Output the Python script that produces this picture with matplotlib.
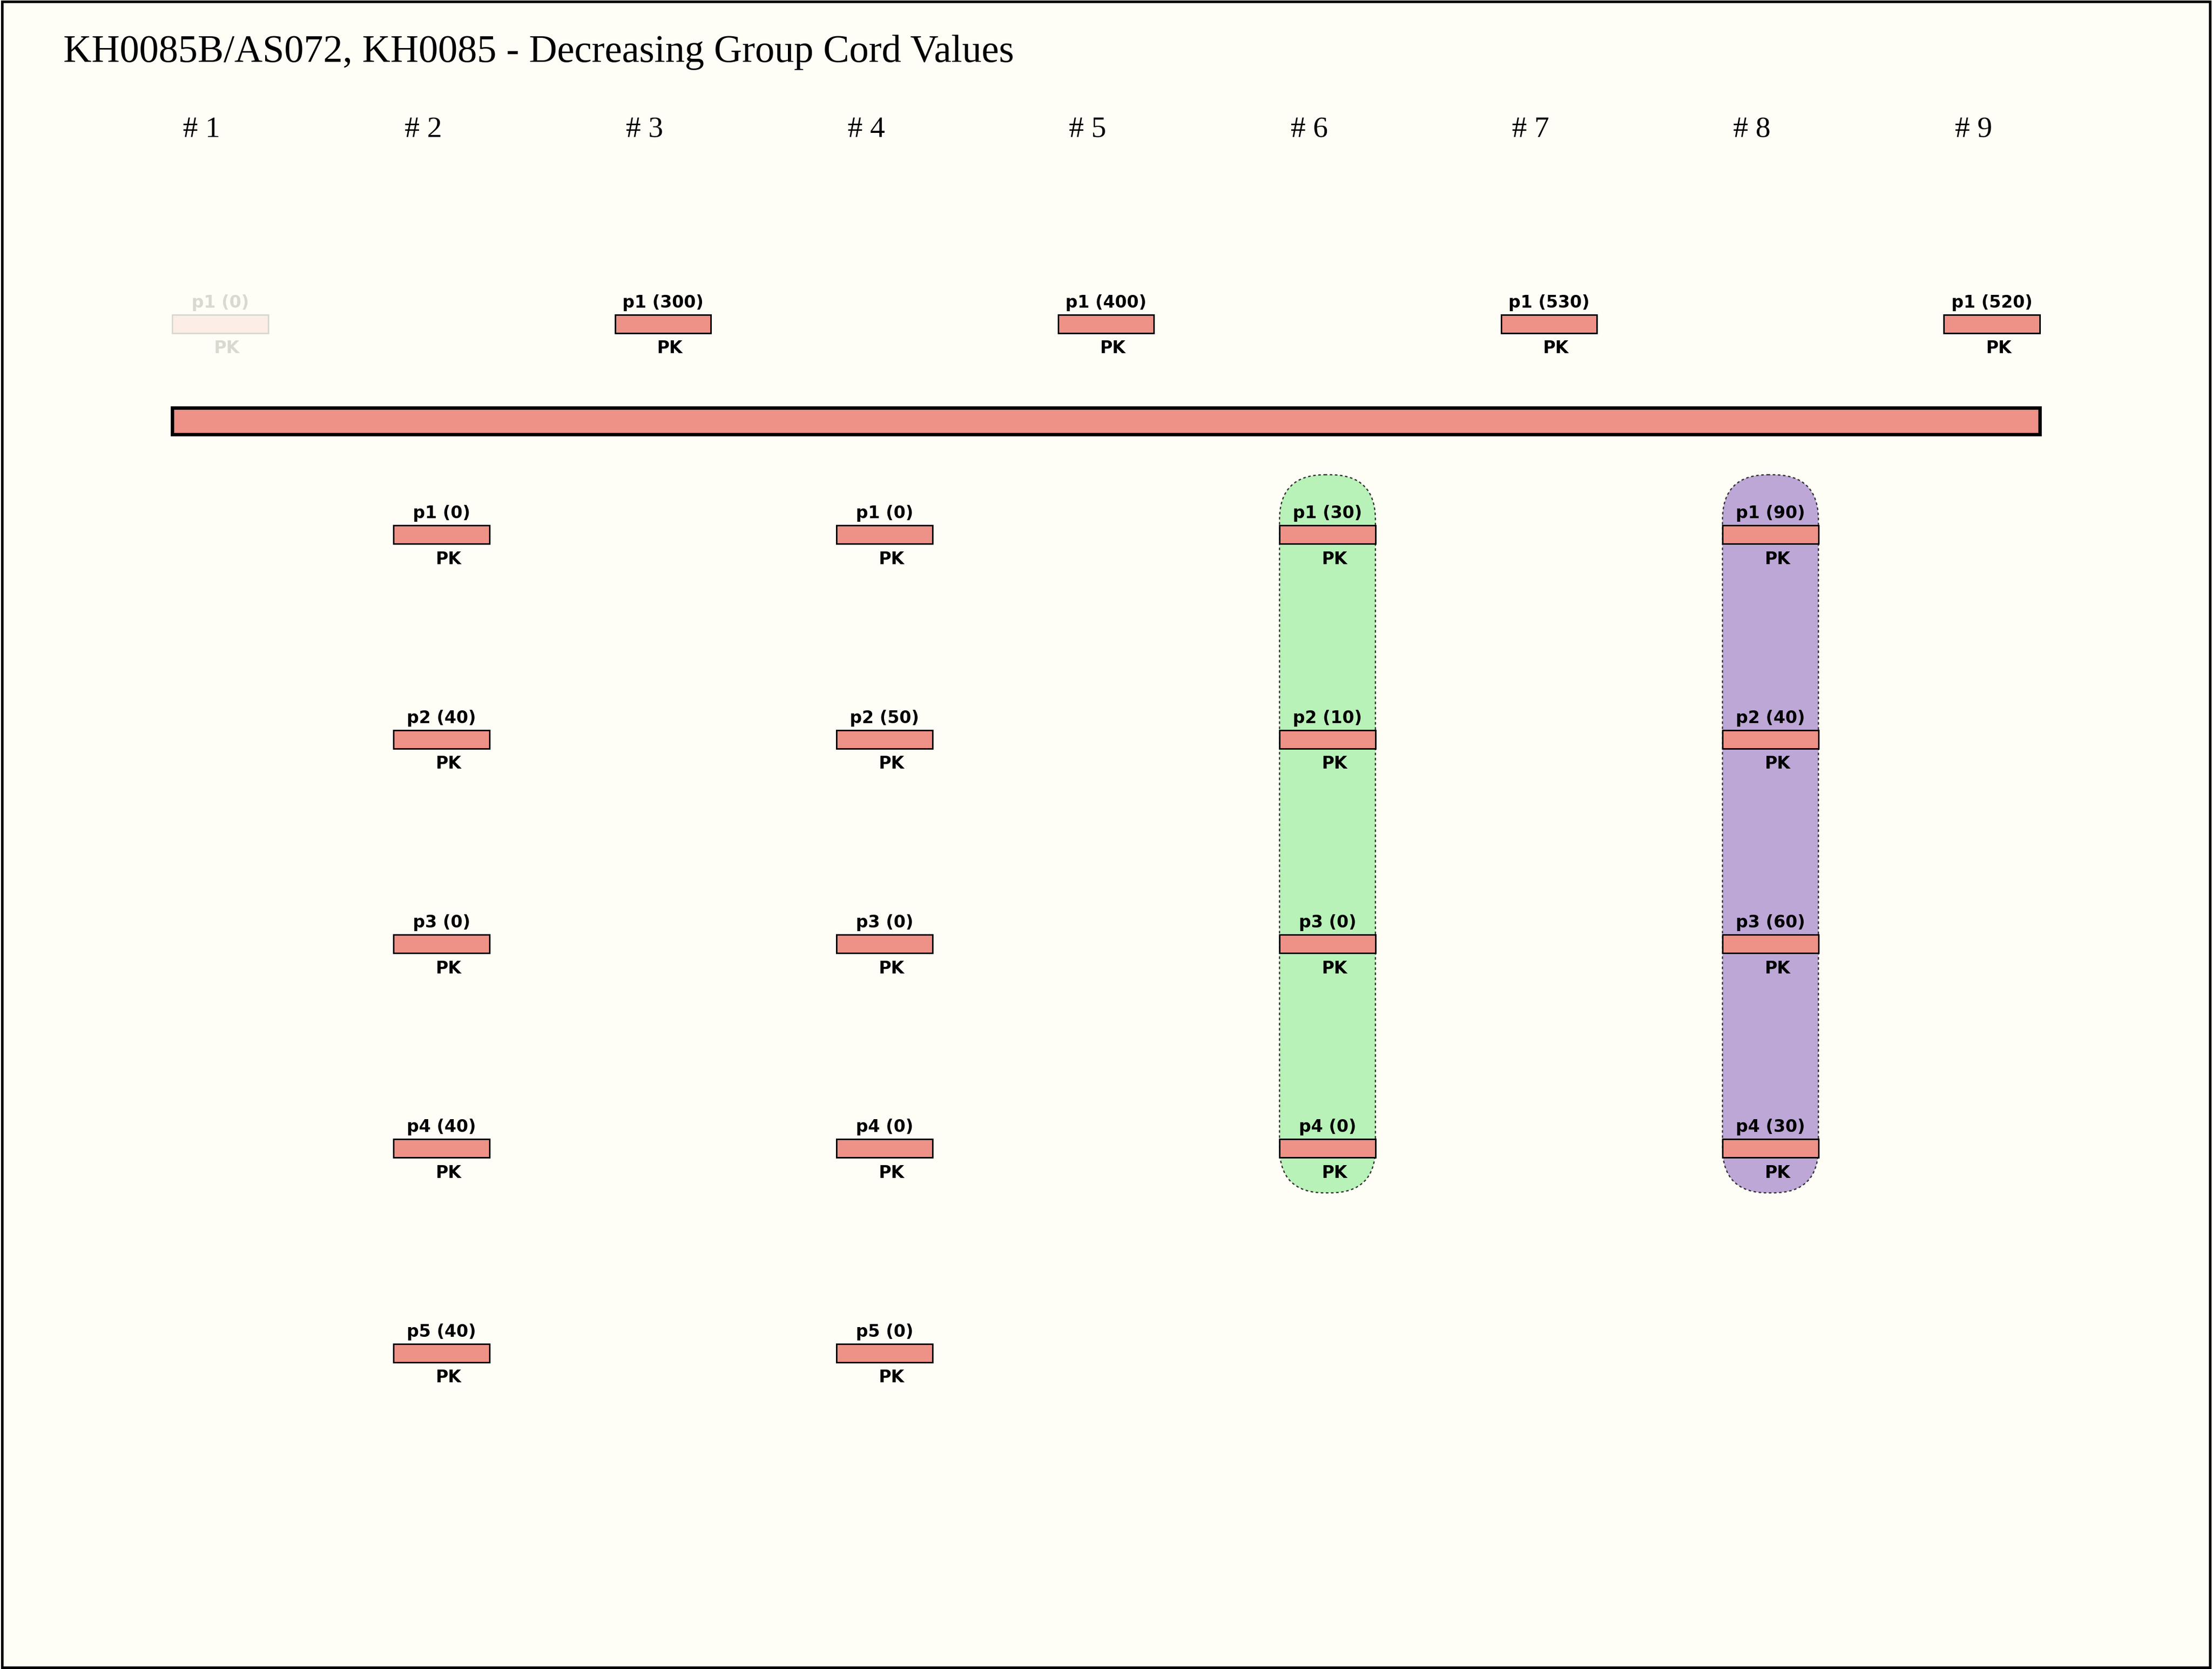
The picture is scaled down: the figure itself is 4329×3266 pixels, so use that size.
import matplotlib
matplotlib.use("Agg")
import matplotlib.pyplot as plt
from matplotlib.patches import Rectangle, FancyBboxPatch

# ---------------- data ----------------
title = "KH0085B/AS072, KH0085 - Decreasing Group Cord Values"
column_labels = ["# 1", "# 2", "# 3", "# 4", "# 5", "# 6", "# 7", "# 8", "# 9"]
cord_side = ["top", "bottom", "top", "bottom", "top", "bottom", "top", "bottom", "top"]
cord_values = [
    [0],
    [0, 40, 0, 40, 40],
    [300],
    [0, 50, 0, 0, 0],
    [400],
    [30, 10, 0, 0],
    [530],
    [90, 40, 60, 30],
    [520],
]
knot_type = "PK"
faded_columns = [1]
group_columns = [6, 8]
group_colors = ["#b8f2b8", "#bda7d6"]

# ---------------- style ----------------
BG = "#fffef6"
CORD = "#ee9186"
FADE_FILL = "#fcede6"
FADE_EDGE = "#d9d9d0"

W, H = 1568, 1183
fig = plt.figure(figsize=(4329 / 300, 3266 / 300), dpi=300, facecolor=BG)
ax = fig.add_axes([0, 0, 1, 1])
ax.set_facecolor(BG)
ax.set_xlim(0, W)
ax.set_ylim(H, 0)
ax.axis("off")

x0, dx = 143, 157          # header positions
bar_off = 13               # bar center offset from header
bw, bh = 68, 13            # pendant bar size
top_y = 229.5
row0, drow = 379, 145

serif = ["Liberation Serif", "DejaVu Serif"]
ax.text(45, 37, title, fontsize=18.3, family=serif, ha="left", va="center", color="black")

for i, lab in enumerate(column_labels):
    ax.text(x0 + i * dx, 92, lab, fontsize=14, family=serif, ha="center", va="center")

# main cord
left = x0 + bar_off - bw / 2
right = x0 + 8 * dx + bar_off + bw / 2
ax.add_patch(Rectangle((left, 289), right - left, 19, facecolor=CORD,
                       edgecolor="black", lw=1.6, zorder=3))

# group highlights
for col, colr in zip(group_columns, group_colors):
    i = col - 1
    cx = x0 + i * dx + bar_off
    n = len(cord_values[i])
    ytop = row0 - bh / 2 - 36
    ybot = row0 + (n - 1) * drow + bh / 2 + 25
    ax.add_patch(FancyBboxPatch((cx - bw / 2, ytop), bw, ybot - ytop,
                                boxstyle="round,pad=0,rounding_size=32",
                                facecolor=colr, edgecolor="#333333", lw=0.6,
                                linestyle=(0, (2, 2)), zorder=1))

# pendant cords
for i, vals in enumerate(cord_values):
    cx = x0 + i * dx + bar_off
    faded = (i + 1) in faded_columns
    fc = FADE_FILL if faded else CORD
    ec = FADE_EDGE if faded else "black"
    tc = FADE_EDGE if faded else "black"
    for j, v in enumerate(vals):
        cy = top_y if cord_side[i] == "top" else row0 + j * drow
        ax.add_patch(Rectangle((cx - bw / 2, cy - bh / 2), bw, bh, facecolor=fc,
                               edgecolor=ec, lw=0.7, zorder=4))
        ax.text(cx, cy - bh / 2 - 8.5, f"p{j + 1} ({v})", fontsize=8, fontweight="bold",
                ha="center", va="center", color=tc, zorder=5)
        ax.text(cx + 5, cy + bh / 2 + 11, knot_type, fontsize=8, fontweight="bold",
                ha="center", va="center", color=tc, zorder=5)

# frame
fig.patches.append(Rectangle((0.001, 0.001), 0.998, 0.998, transform=fig.transFigure,
                             fill=False, edgecolor="black", lw=1.2))

fig.savefig("out.png", dpi=300, facecolor=BG)
